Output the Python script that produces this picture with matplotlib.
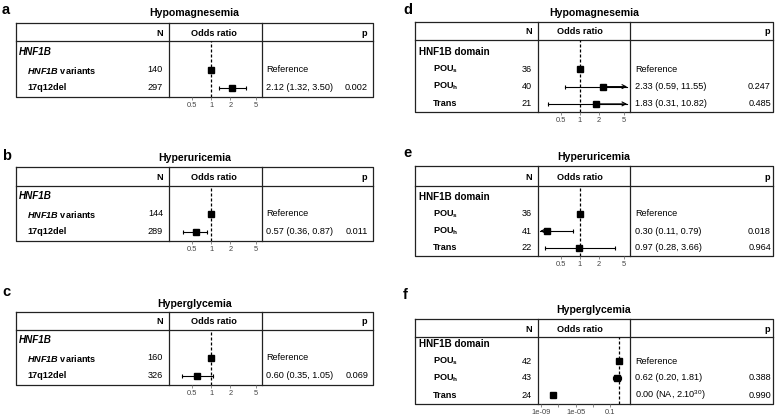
import numpy as np
import matplotlib.pyplot as plt

plt.rcParams['font.family'] = 'Liberation Sans'
plt.rcParams['mathtext.fontset'] = 'custom'
plt.rcParams['mathtext.rm'] = 'Liberation Sans'
plt.rcParams['mathtext.bf'] = 'Liberation Sans:bold'
plt.rcParams['mathtext.it'] = 'Liberation Sans:italic'
plt.rcParams['mathtext.bfit'] = 'Liberation Sans:italic:bold'

nan = np.nan

# ---- data ----
titles = ['Hypomagnesemia', 'Hyperuricemia', 'Hyperglycemia']

gene_group = 'HNF1B'
gene_labels = [r'$\mathbfit{HNF1B}$ variants', '17q12del']
gene_n = [[140, 297], [144, 289], [160, 326]]
gene_or = [[1, 2.12], [1, 0.57], [1, 0.60]]
gene_lo = [[nan, 1.32], [nan, 0.36], [nan, 0.35]]
gene_hi = [[nan, 3.50], [nan, 0.87], [nan, 1.05]]
gene_est = [['Reference', '2.12 (1.32, 3.50)'],
            ['Reference', '0.57 (0.36, 0.87)'],
            ['Reference', '0.60 (0.35, 1.05)']]
gene_p = [['', '0.002'], ['', '0.011'], ['', '0.069']]

dom_group = 'HNF1B domain'
dom_labels = [r'$\mathbf{POU_s}$', r'$\mathbf{POU_h}$', 'Trans']
dom_n = [[36, 40, 21], [36, 41, 22], [42, 43, 24]]
dom_or = [[1, 2.33, 1.83], [1, 0.30, 0.97], [1, 0.62, 2.5e-8]]
dom_lo = [[nan, 0.59, 0.31], [nan, 0.11, 0.28], [nan, 0.20, nan]]
dom_hi = [[nan, 11.55, 10.82], [nan, 0.79, 3.66], [nan, 1.81, nan]]
dom_est = [['Reference', '2.33 (0.59, 11.55)', '1.83 (0.31, 10.82)'],
           ['Reference', '0.30 (0.11, 0.79)', '0.97 (0.28, 3.66)'],
           ['Reference', '0.62 (0.20, 1.81)', r'0.00 (NA, 2.10$^{30}$)']]
dom_p = [['', '0.247', '0.485'], ['', '0.018', '0.964'], ['', '0.388', '0.990']]

or_ticks = [0.5, 1, 2, 5]
or_ticklabels = ['0.5', '1', '2', '5']
f_ticks = [1e-9, 1e-7, 1e-5, 1e-3, 1e-1]
f_ticklabels = ['1e-09', '', '1e-05', '', '0.1']

# ---- layout (pixels) ----
W, H = 777, 418
left_col = dict(x0=16, x1=373, d1=169, d2=262, grp=19, item=27, n=163, est=266, p=368, odds=214, let=2)
right_col = dict(x0=415, x1=773, d1=538, d2=630, grp=419, item=433, n=532, est=635, p=771, odds=580, let=403)
rows_left = [dict(let=10, title=13, top=23, hl=41, first=52, step=18, bot=97),
             dict(let=156, title=158, top=167, hl=186, first=196, step=18, bot=241),
             dict(let=292, title=304, top=312, hl=330, first=340, step=18, bot=385)]
rows_right = [dict(let=10, title=13, top=22, hl=40, first=52, step=17.3, bot=112),
              dict(let=153, title=157, top=166, hl=186, first=197, step=17, bot=256),
              dict(let=295, title=310, top=319, hl=337, first=344, step=17, bot=404)]

fig = plt.figure(figsize=(W / 100, H / 100), dpi=100)
bg = fig.add_axes([0, 0, 1, 1])
bg.set_xlim(0, W)
bg.set_ylim(H, 0)
bg.axis('off')

LW = 0.9
FS = 6.6


def draw_panel(letter, title, col, r, group, labels, ns, ors, los, his, ests, ps,
               xlim, ticks, ticklabels, group_italic):
    # tabelle
    bg.plot([col['x0'], col['x1'], col['x1'], col['x0'], col['x0']],
            [r['top'], r['top'], r['bot'], r['bot'], r['top']], color='#222', lw=LW)
    bg.plot([col['x0'], col['x1']], [r['hl'], r['hl']], color='#222', lw=LW)
    for d in (col['d1'], col['d2']):
        bg.plot([d, d], [r['top'], r['bot']], color='#222', lw=LW)

    bg.text(col['let'], r['let'], letter, fontsize=10.5, fontweight='bold', va='center')
    bg.text((col['x0'] + col['x1']) / 2, r['title'], title, fontsize=7.6,
            fontweight='bold', ha='center', va='center')

    yh = (r['top'] + r['hl']) / 2 + 1
    bg.text(col['n'], yh, 'N', fontsize=FS, fontweight='bold', ha='right', va='center')
    bg.text(col['odds'], yh, 'Odds ratio', fontsize=FS, fontweight='bold', ha='center', va='center')
    bg.text(col['p'] - 1, yh, 'p', fontsize=FS, fontweight='bold', ha='right', va='center')

    bg.text(col['grp'], r['first'], group, fontsize=7.1, fontweight='bold',
            fontstyle='italic' if group_italic else 'normal', va='center')
    for i, lab in enumerate(labels):
        y = r['first'] + (i + 1) * r['step']
        bg.text(col['item'], y, lab, fontsize=FS, fontweight='bold', va='center')
        bg.text(col['n'], y, str(ns[i]), fontsize=FS, ha='right', va='center')
        bg.text(col['est'], y, ests[i], fontsize=FS, va='center')
        bg.text(col['p'], y, ps[i], fontsize=FS, ha='right', va='center')

    # forest plot
    ax = fig.add_axes([col['d1'] / W, 1 - r['bot'] / H,
                       (col['d2'] - col['d1']) / W, (r['bot'] - r['hl']) / H])
    ax.set_facecolor('none')
    ax.set_xscale('log')
    ax.set_xlim(*xlim)
    ax.set_ylim((r['bot'] - r['first']) / r['step'], (r['hl'] - r['first']) / r['step'])
    for s in ax.spines.values():
        s.set_visible(False)
    ax.set_yticks([])
    ax.minorticks_off()
    ax.set_xticks(ticks)
    ax.set_xticklabels(ticklabels)
    ax.tick_params(axis='x', length=2, width=0.6, color='#777', labelcolor='#444',
                   labelsize=5.4, pad=1.5)
    ax.axvline(1, color='black', lw=0.9, ls=(0, (2.4, 1.6)), zorder=1)

    lo_lim, hi_lim = xlim[0] * 1.08, xlim[1] * 0.9
    ypos = np.arange(1, len(labels) + 1)
    arrow = dict(arrowstyle='->', lw=0.8, color='black', mutation_scale=7, shrinkA=0, shrinkB=0)
    for y, o, lo, hi in zip(ypos, ors, los, his):
        if np.isnan(lo) or np.isnan(hi):
            continue
        a, b = max(lo, lo_lim), min(hi, hi_lim)
        ax.plot([a, b], [y, y], color='black', lw=0.8, zorder=2)
        if lo >= lo_lim:
            ax.plot(lo, y, marker='|', ms=3, mew=0.8, color='black', zorder=2)
        else:
            ax.annotate('', xy=(lo_lim, y), xytext=(o, y), arrowprops=arrow)
        if hi <= hi_lim:
            ax.plot(hi, y, marker='|', ms=3, mew=0.8, color='black', zorder=2)
        else:
            ax.annotate('', xy=(hi_lim, y), xytext=(o, y), arrowprops=arrow)
    ax.plot(ors, ypos, ls='none', marker='s', ms=4.6, color='black', zorder=3)


or_lim = (10 ** -0.667, 10 ** 0.80)
f_lim = (10 ** -9.35, 10 ** 1.3)

for k in range(3):
    draw_panel('abc'[k], titles[k], left_col, rows_left[k], gene_group, gene_labels,
               gene_n[k], gene_or[k], gene_lo[k], gene_hi[k], gene_est[k], gene_p[k],
               or_lim, or_ticks, or_ticklabels, True)

for k in range(3):
    lim = f_lim if k == 2 else or_lim
    tk = f_ticks if k == 2 else or_ticks
    tl = f_ticklabels if k == 2 else or_ticklabels
    draw_panel('def'[k], titles[k], right_col, rows_right[k], dom_group, dom_labels,
               dom_n[k], dom_or[k], dom_lo[k], dom_hi[k], dom_est[k], dom_p[k],
               lim, tk, tl, False)

fig.savefig('out.png', dpi=100)
